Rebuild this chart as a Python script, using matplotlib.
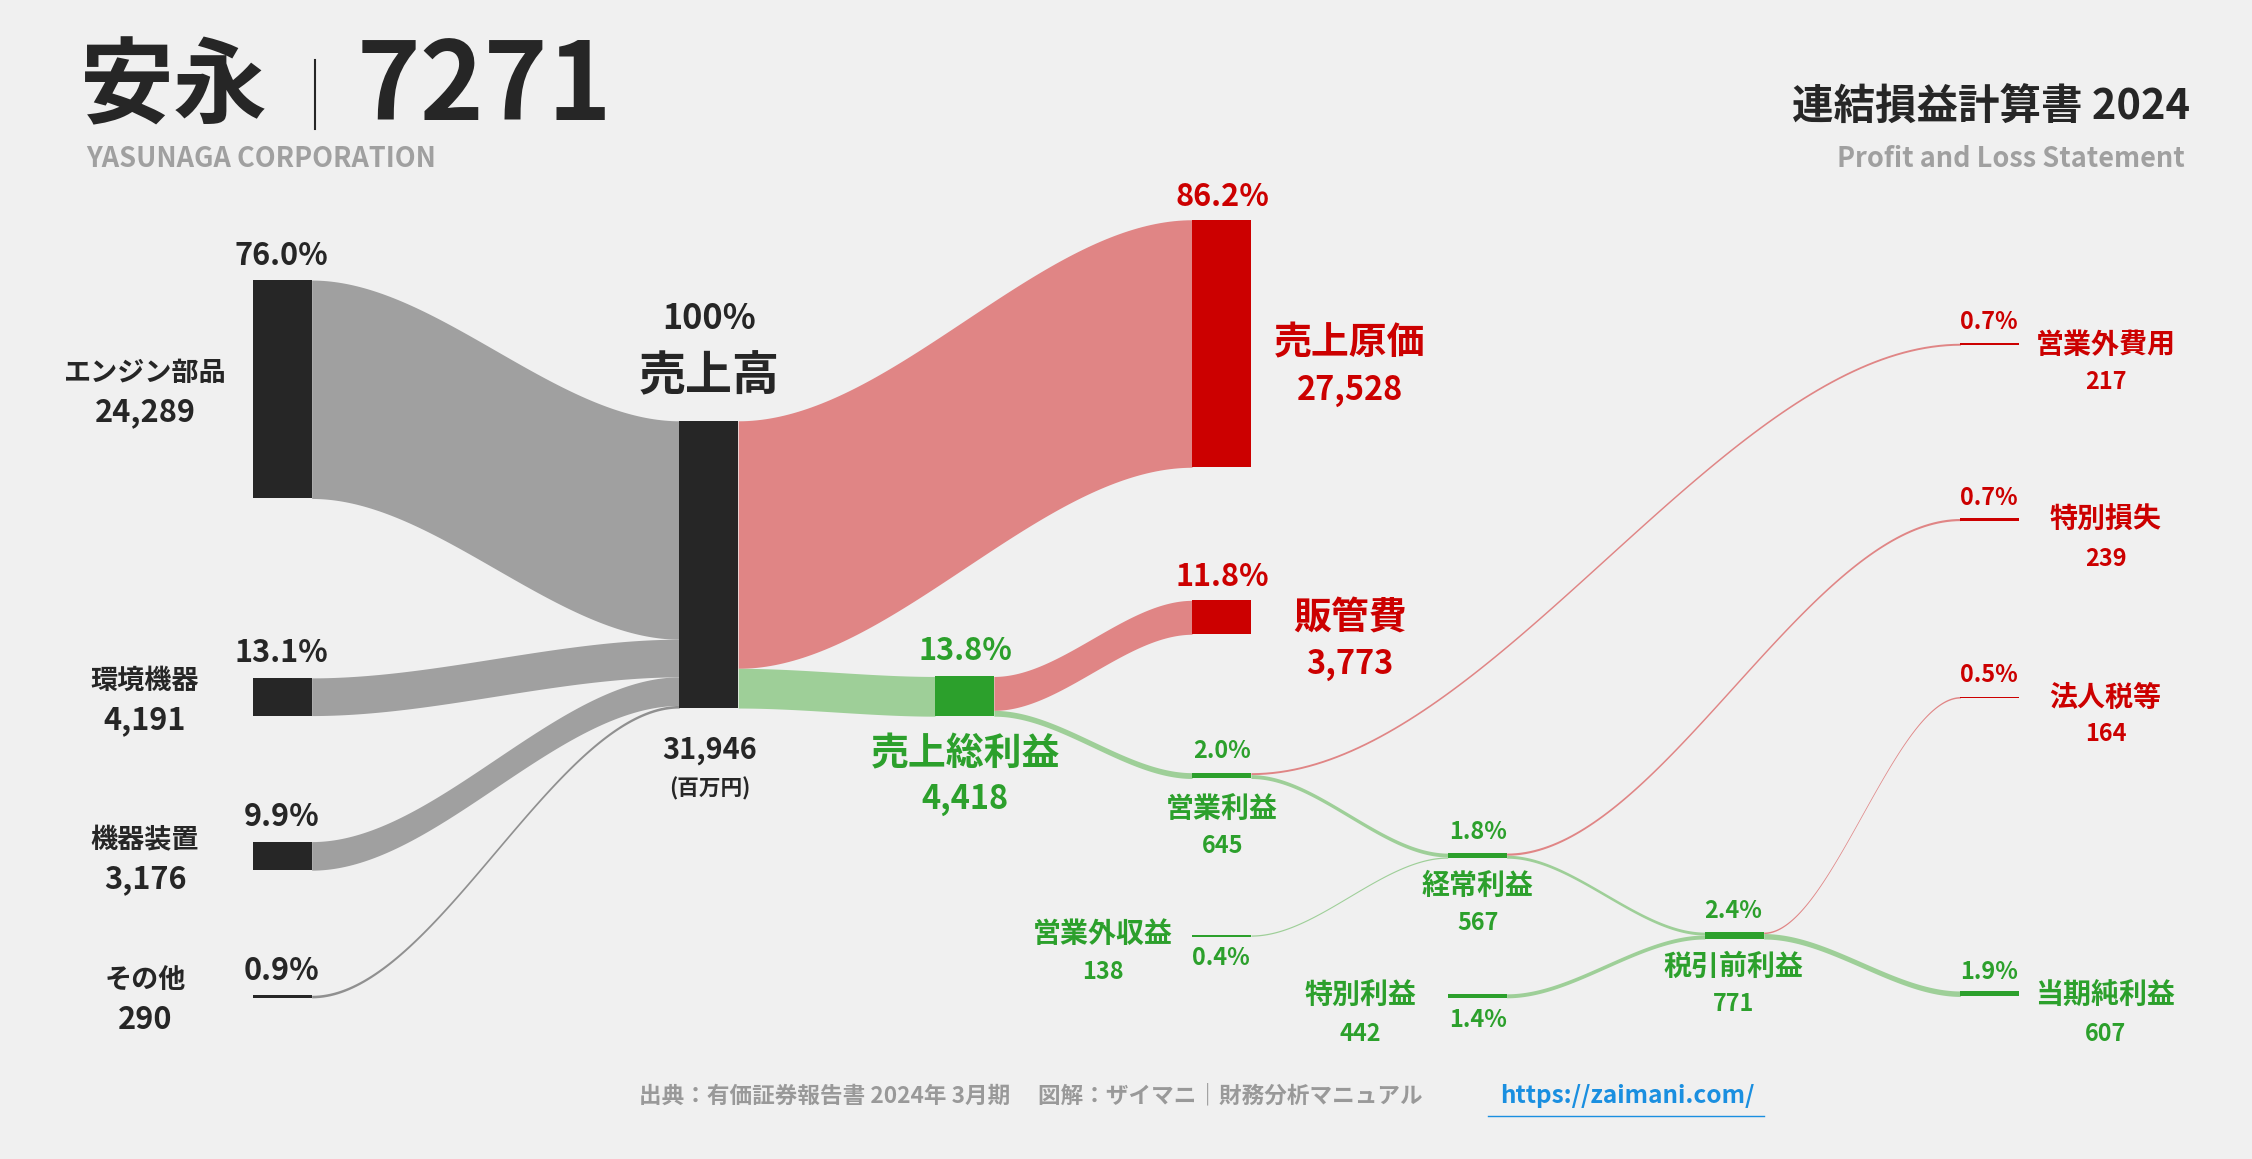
import matplotlib
matplotlib.use('Agg')
import matplotlib.pyplot as plt
import numpy as np

plt.rcParams['font.family'] = ['Noto Sans CJK JP']

# ---- data (百万円) ----
seg_names = ['エンジン部品', '環境機器', '機器装置', 'その他']
seg_values = [24289, 4191, 3176, 290]
seg_pct = ['76.0%', '13.1%', '9.9%', '0.9%']
revenue = 31946
cogs = 27528
gross = 4418
sga = 3773
op_income = 645
nonop_income = 138
nonop_exp = 217
ordinary = 567
extra_gain = 442
extra_loss = 239
pretax = 771
tax = 164
net = 607

BG = '#f0f0f0'
DARK = '#262626'
GRAY = '#a0a0a0'
RED = '#cc0000'
REDF = '#e08585'
GREEN = '#2ca02c'
GREENF = '#9ecf98'

fig = plt.figure(figsize=(22.52, 11.59), dpi=100, facecolor=BG)
ax = fig.add_axes([0, 0, 1, 1])
ax.set_xlim(0, 1568)
ax.set_ylim(807, 0)
ax.axis('off')
ax.set_facecolor(BG)

k = 200.0 / revenue  # px per unit
W = 41
FS = 1.3
SL, SV = 15.5, 13  # small label / value sizes


def node(x, y, v, c):
    ax.add_patch(plt.Rectangle((x, y), W, max(v * k, 1.2), color=c, lw=0, zorder=3))


def band(x0, y0, x1, y1, v, c, alpha=1.0):
    h = max(v * k, 0.8)
    t = np.linspace(0, 1, 100)
    s = 3 * t ** 2 - 2 * t ** 3
    xs = x0 + (x1 - x0) * t
    top = y0 + (y1 - y0) * s
    ax.fill_between(xs, top, top + h, color=c, lw=0, alpha=alpha, zorder=2)


def txt(x, y, s, size, c=DARK, ha='center', va='center', w='bold'):
    ax.text(x, y, s, fontsize=size * FS, color=c, ha=ha, va=va, fontweight=w)


# segments -> revenue
seg_x = 176
seg_y = [195, 472, 586, 693]
rev_x, rev_y = 473, 293
ry = rev_y
for name, v, p, y in zip(seg_names, seg_values, seg_pct, seg_y):
    node(seg_x, y, v, DARK)
    band(seg_x + W, y, rev_x, ry, v, GRAY if v > 1000 else '#909090')
    ry += v * k
    txt(seg_x + 20, y - 17, p, 17)
    txt(seg_x - 75, y + v * k / 2 - 11, name, 15)
    txt(seg_x - 75, y + v * k / 2 + 16, f'{v:,}', 17)
node(rev_x, rev_y, revenue, DARK)
txt(494, 222, '100%', 19)
txt(494, 262, '売上高', 26)
txt(494, 522, f'{revenue:,}', 16)
txt(494, 549, '(百万円)', 12)

# revenue -> cogs / gross
cx, cy = 830, 153
gx, gy = 651, 471
band(rev_x + W, rev_y, cx, cy, cogs, REDF)
band(rev_x + W, rev_y + cogs * k, gx, gy, gross, GREENF)
node(cx, cy, cogs, RED)
node(gx, gy, gross, GREEN)
txt(851, 137, '86.2%', 17, RED)
txt(940, 239, '売上原価', 21, RED)
txt(940, 272, f'{cogs:,}', 18, RED)
txt(672, 453, '13.8%', 17, GREEN)
txt(672, 525, '売上総利益', 21, GREEN)
txt(672, 557, f'{gross:,}', 18, GREEN)

# gross -> sga / op
sx, sy = 830, 418
ox, oy = 830, 538
band(gx + W, gy, sx, sy, sga, REDF)
band(gx + W, gy + sga * k, ox, oy, op_income, GREENF)
node(sx, sy, sga, RED)
node(ox, oy, op_income, GREEN)
txt(851, 402, '11.8%', 17, RED)
txt(940, 430, '販管費', 21, RED)
txt(940, 463, f'{sga:,}', 18, RED)
txt(851, 523, '2.0%', SV, GREEN)
txt(851, 563, '営業利益', SL, GREEN)
txt(851, 589, f'{op_income:,}', SV, GREEN)

# op -> nonop exp / ordinary ; nonop income -> ordinary
ex_x, ex_y = 1365, 239
ordx, ordy = 1008, 594
nix, niy = 830, 651
band(ox + W, oy, ex_x, ex_y, nonop_exp, REDF)
band(ox + W, oy + nonop_exp * k, ordx, ordy, op_income - nonop_exp, GREENF)
band(nix + W, niy, ordx, ordy + (op_income - nonop_exp) * k, nonop_income, GREENF)
node(ex_x, ex_y, nonop_exp, RED)
node(nix, niy, nonop_income, GREEN)
node(ordx, ordy, ordinary, GREEN)
txt(1385, 224, '0.7%', SV, RED)
txt(1466, 240, '営業外費用', SL, RED)
txt(1466, 266, f'{nonop_exp}', SV, RED)
txt(768, 650, '営業外収益', SL, GREEN)
txt(768, 677, f'{nonop_income}', SV, GREEN)
txt(850, 667, '0.4%', SV, GREEN)
txt(1029, 579, '1.8%', SV, GREEN)
txt(1029, 617, '経常利益', SL, GREEN)
txt(1029, 643, f'{ordinary}', SV, GREEN)

# ordinary -> extra loss / pretax ; extra gain -> pretax
lx, ly = 1365, 361
px_, py_ = 1187, 649
egx, egy = 1008, 692
band(ordx + W, ordy, lx, ly, extra_loss, REDF)
band(ordx + W, ordy + extra_loss * k, px_, py_, ordinary - extra_loss, GREENF)
band(egx + W, egy, px_, py_ + (ordinary - extra_loss) * k, extra_gain, GREENF)
node(lx, ly, extra_loss, RED)
node(egx, egy, extra_gain, GREEN)
node(px_, py_, pretax, GREEN)
txt(1385, 347, '0.7%', SV, RED)
txt(1466, 362, '特別損失', SL, RED)
txt(1466, 389, f'{extra_loss}', SV, RED)
txt(947, 693, '特別利益', SL, GREEN)
txt(947, 720, f'{extra_gain}', SV, GREEN)
txt(1029, 710, '1.4%', SV, GREEN)
txt(1207, 634, '2.4%', SV, GREEN)
txt(1207, 673, '税引前利益', SL, GREEN)
txt(1207, 699, f'{pretax}', SV, GREEN)

# pretax -> tax / net
tx, ty = 1365, 485
nx, ny = 1365, 690
band(px_ + W, py_, tx, ty, tax, REDF)
band(px_ + W, py_ + tax * k, nx, ny, net, GREENF)
node(tx, ty, tax, RED)
node(nx, ny, net, GREEN)
txt(1385, 470, '0.5%', SV, RED)
txt(1466, 486, '法人税等', SL, RED)
txt(1466, 511, f'{tax}', SV, RED)
txt(1385, 677, '1.9%', SV, GREEN)
txt(1466, 693, '当期純利益', SL, GREEN)
txt(1466, 720, f'{net}', SV, GREEN)

# titles
txt(56, 62, '安永', 52, ha='left')
ax.plot([219, 219], [42, 90], color=DARK, lw=1.5)
txt(248, 62, '7271', 60, ha='left')
txt(60, 111, 'YASUNAGA CORPORATION', 15, c='#a0a0a0', ha='left')
txt(1525, 75, '連結損益計算書 2024', 23, ha='right')
txt(1521, 111, 'Profit and Loss Statement', 15, c='#a0a0a0', ha='right')

# footer
txt(718, 763, '出典：有価証券報告書 2024年 3月期　 図解：ザイマニ｜財務分析マニュアル', 12.5, c='#999999')
txt(1133, 763, 'https://zaimani.com/', 13.5, c='#1a8fe0')
ax.plot([1036, 1228], [777, 777], color='#1a8fe0', lw=1)

fig.savefig('out.png', dpi=100, facecolor=BG)
